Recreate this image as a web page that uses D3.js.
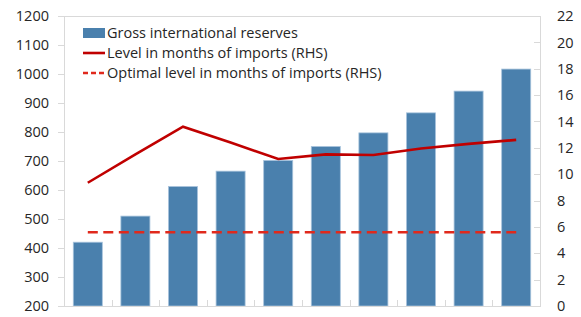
<!DOCTYPE html>
<html><head><meta charset="utf-8">
<script src="https://cdn.jsdelivr.net/npm/d3@7"></script>
<style>
html,body{margin:0;padding:0;background:#fff;}
svg{display:block;font-family:"Open Sans","Noto Sans",sans-serif;}
</style></head>
<body><svg id="chart" width="581" height="317"></svg>
<script>
const categories = ["1","2","3","4","5","6","7","8","9","10"];
const reserves = [420, 510, 612, 665, 702, 750, 797, 866, 941, 1017];
const monthsImports = [9.35, 11.5, 13.6, 12.4, 11.15, 11.5, 11.45, 11.95, 12.3, 12.6];
const optimalLevel = [5.6, 5.6, 5.6, 5.6, 5.6, 5.6, 5.6, 5.6, 5.6, 5.6];
const leftTicks = [200,300,400,500,600,700,800,900,1000,1100,1200];
const rightTicks = [0,2,4,6,8,10,12,14,16,18,20,22];
const legendLabels = ["Gross international reserves","Level in months of imports (RHS)","Optimal level in months of imports (RHS)"];

const svg = d3.select("#chart");
const L = 64, R = 540, T = 16, B = 306;
const x = d3.scaleBand().domain(categories).range([L, R]).paddingInner(0.39).paddingOuter(0.195);
const yL = d3.scaleLinear().domain([200, 1200]).range([B, T]);
const yR = d3.scaleLinear().domain([0, 22]).range([B, T]);
const textColor = "#262626", axisColor = "#d9d9d9";

// frame
svg.append("rect").attr("x", L).attr("y", T).attr("width", R - L).attr("height", B - T)
  .attr("fill", "none").attr("stroke", axisColor).attr("stroke-width", 1).attr("shape-rendering","crispEdges");

// bars
svg.append("g").selectAll("rect").data(reserves).join("rect")
  .attr("x", (d, i) => x(categories[i]))
  .attr("width", x.bandwidth())
  .attr("y", d => yL(d))
  .attr("height", d => yL(200) - yL(d))
  .attr("fill", "#4a80ad").attr("stroke", "#a8c3dc").attr("stroke-width", 0.8);

// left axis
const axL = svg.append("g").attr("transform", `translate(${L},0)`)
  .call(d3.axisLeft(yL).tickValues(leftTicks).tickSize(6).tickPadding(9).tickFormat(d3.format("d")));
// right axis
const axR = svg.append("g").attr("transform", `translate(${R},0)`)
  .call(d3.axisRight(yR).tickValues(rightTicks).tickSize(-6).tickPadding(17).tickFormat(d3.format("d")));
// bottom axis (category ticks at boundaries)
const boundaries = categories.slice(1).map(c => x(c) - x.step() * x.paddingInner() / 2);
const axB = svg.append("g").attr("transform", `translate(0,${B})`)
  .call(d3.axisBottom(d3.scaleLinear().domain([L, R]).range([L, R])).tickValues(boundaries).tickSize(-6).tickFormat(""));
[axL, axR, axB].forEach(a => {
  a.select(".domain").attr("stroke", axisColor).attr("shape-rendering","crispEdges");
  a.selectAll(".tick line").attr("stroke", axisColor).attr("shape-rendering","crispEdges");
  a.selectAll("text").attr("fill", textColor).attr("font-size", 14.5)
    .attr("font-family", '"Open Sans","Noto Sans",sans-serif');
});
axR.selectAll("text").attr("text-anchor", "start");

// lines
const cx = (d, i) => x(categories[i]) + x.bandwidth() / 2;
svg.append("path").datum(monthsImports)
  .attr("d", d3.line().x(cx).y(d => yR(d)))
  .attr("fill", "none").attr("stroke", "#c00000").attr("stroke-width", 2.6).attr("stroke-linejoin","miter");
svg.append("path").datum(optimalLevel)
  .attr("d", d3.line().x(cx).y(d => yR(d)))
  .attr("fill", "none").attr("stroke", "#e0291c").attr("stroke-width", 2.6).attr("stroke-dasharray", "10,5.5");

// legend
const lg = svg.append("g");
const lx = 83, lw = 22, ys = [33, 53, 73];
lg.append("rect").attr("x", lx).attr("y", ys[0] - 5).attr("width", lw).attr("height", 10).attr("fill", "#4a80ad");
lg.append("line").attr("x1", lx).attr("x2", lx + lw).attr("y1", ys[1]).attr("y2", ys[1]).attr("stroke", "#c00000").attr("stroke-width", 2.6);
lg.append("line").attr("x1", lx).attr("x2", lx + lw).attr("y1", ys[2]).attr("y2", ys[2]).attr("stroke", "#e0291c").attr("stroke-width", 2.6).attr("stroke-dasharray", "5,3");
lg.selectAll("text").data(legendLabels).join("text")
  .attr("x", lx + lw + 2).attr("y", (d, i) => ys[i]).attr("dy", "0.35em")
  .attr("fill", textColor).attr("font-size", 14.5).text(d => d);
</script></body></html>
